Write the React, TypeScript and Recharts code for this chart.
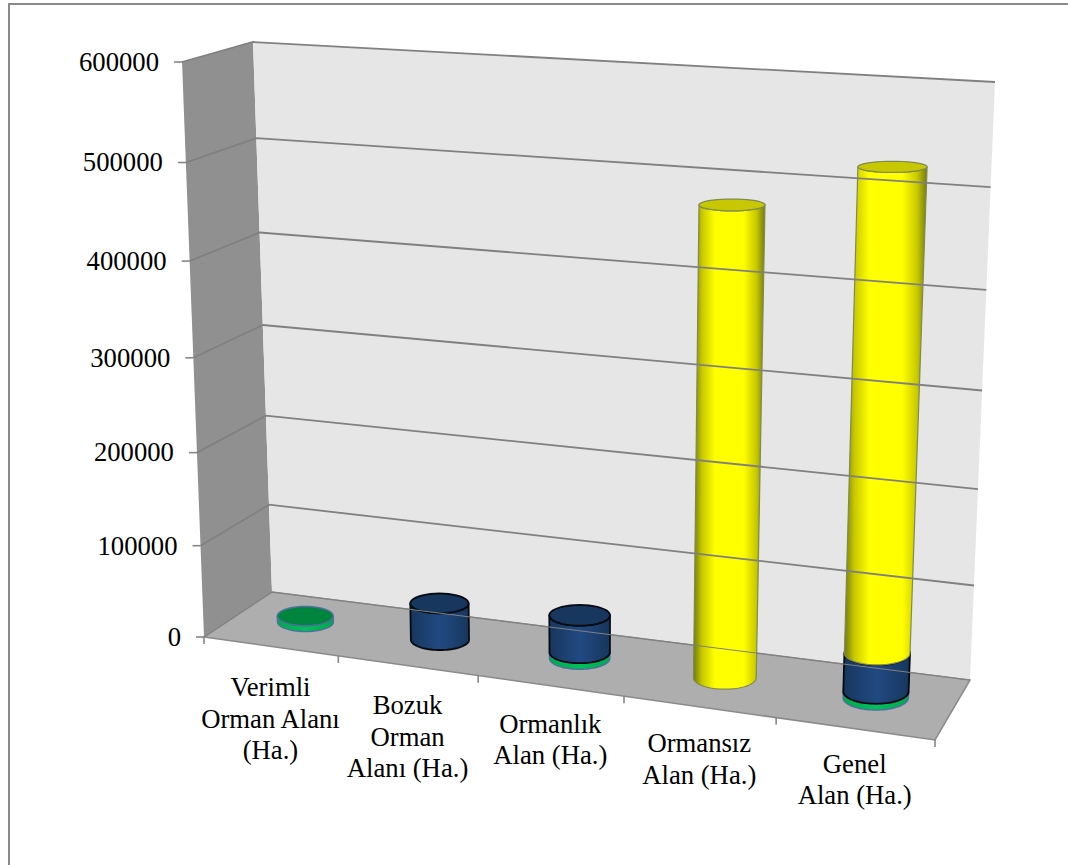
import { BarChart, Bar, XAxis, YAxis, ReferenceArea, ReferenceLine } from 'recharts'

const categories = [
  'Verimli Orman Alanı (Ha.)',
  'Bozuk Orman Alanı (Ha.)',
  'Ormanlık Alan (Ha.)',
  'Ormansız Alan (Ha.)',
  'Genel Alan (Ha.)',
]
const categoryLines = [
  ['Verimli', 'Orman Alanı', '(Ha.)'],
  ['Bozuk', 'Orman', 'Alanı (Ha.)'],
  ['Ormanlık', 'Alan (Ha.)'],
  ['Ormansız', 'Alan (Ha.)'],
  ['Genel', 'Alan (Ha.)'],
]
const verimli = [6500, 0, 6500, 0, 6500]
const bozuk = [0, 40000, 40000, 0, 40000]
const ormansiz = [0, 0, 0, 480000, 480000]
const yTicks = [0, 100000, 200000, 300000, 400000, 500000, 600000]

const chartData = categories.map((name, i) => ({
  name,
  verimli: verimli[i],
  bozuk: bozuk[i],
  ormansiz: ormansiz[i],
}))

// plot rectangle recharts lays out; everything is then pushed through the 3D view
const PLOT_LEFT = 100
const PLOT_TOP = 100
const PLOT_W = 900
const PLOT_H = 600
const FONT = '"Liberation Serif", serif'
const FONT_SIZE = 26.7

type Pt = [number, number]

const lerp = (a: Pt, b: Pt, t: number): Pt => [a[0] + (b[0] - a[0]) * t, a[1] + (b[1] - a[1]) * t]

// box corners on the page, depth 0 = front, 1 = back wall
function project(u: number, v: number, d: number): Pt {
  const p0 = lerp([204, 637], [272, 592], d) // bottom left
  const p1 = lerp([935, 740], [970, 680], d) // bottom right
  const p2 = lerp([959, 104], [995, 82], d) // top right
  const p3 = lerp([182, 62], [253, 42], d) // top left
  const dx1 = p1[0] - p2[0]
  const dx2 = p3[0] - p2[0]
  const sx = p0[0] - p1[0] + p2[0] - p3[0]
  const dy1 = p1[1] - p2[1]
  const dy2 = p3[1] - p2[1]
  const sy = p0[1] - p1[1] + p2[1] - p3[1]
  const den = dx1 * dy2 - dx2 * dy1
  const g = (sx * dy2 - dx2 * sy) / den
  const h = (dx1 * sy - sx * dy1) / den
  const a = p1[0] - p0[0] + g * p1[0]
  const b = p3[0] - p0[0] + h * p3[0]
  const c = p1[1] - p0[1] + g * p1[1]
  const e = p3[1] - p0[1] + h * p3[1]
  const w = g * u + h * v + 1
  return [(a * u + b * v + p0[0]) / w, (c * u + e * v + p0[1]) / w]
}

const toU = (x: number) => (x - PLOT_LEFT) / PLOT_W
const toV = (y: number) => (PLOT_TOP + PLOT_H - y) / PLOT_H
const pathOf = (pts: Pt[]) => 'M' + pts.map((p) => `${p[0].toFixed(1)},${p[1].toFixed(1)}`).join('L') + 'Z'

function WallsShape(props: any) {
  const u0 = toU(props.x)
  const u1 = toU(props.x + props.width)
  const v0 = toV(props.y + props.height)
  const v1 = toV(props.y)
  return (
    <g>
      <path
        d={pathOf([project(u0, v0, 0), project(u0, v0, 1), project(u0, v1, 1), project(u0, v1, 0)])}
        fill="#909090"
      />
      <path
        d={pathOf([project(u0, v0, 1), project(u1, v0, 1), project(u1, v1, 1), project(u0, v1, 1)])}
        fill="#e6e6e6"
      />
      <path
        d={pathOf([project(u0, v0, 0), project(u1, v0, 0), project(u1, v0, 1), project(u0, v0, 1)])}
        fill="#aeaeae"
        stroke="#8a8a8a"
        strokeWidth={1.5}
      />
    </g>
  )
}

function GridShape(props: any) {
  const v = toV(props.y1)
  const pts = [project(0, v, 0), project(0, v, 1), project(1, v, 1)]
  return (
    <polyline
      points={pts.map((p) => p.join(',')).join(' ')}
      fill="none"
      stroke="#808080"
      strokeWidth={v === 0 ? 1 : 1.8}
    />
  )
}

function YTick(props: any) {
  const v = toV(props.y)
  const [px, py] = project(0, v, 0)
  return (
    <g>
      <line x1={px - 8} y1={py} x2={px} y2={py} stroke="#868686" strokeWidth={1.6} />
      <text x={px - 23} y={py} dy="0.33em" textAnchor="end" fontFamily={FONT} fontSize={FONT_SIZE} fill="#000">
        {props.payload.value}
      </text>
    </g>
  )
}

function XTick(props: any) {
  const band = PLOT_W / categories.length
  const i = props.index
  const u = toU(props.x)
  const [cx, cy] = project(u, 0, 0)
  const edges = [toU(props.x - band / 2)]
  if (i === categories.length - 1) edges.push(toU(props.x + band / 2))
  return (
    <g>
      {edges.map((e) => {
        const [ex, ey] = project(e, 0, 0)
        return <line key={e} x1={ex} y1={ey} x2={ex} y2={ey + 7} stroke="#868686" strokeWidth={1.6} />
      })}
      <text textAnchor="middle" fontFamily={FONT} fontSize={FONT_SIZE} fill="#000">
        {categoryLines[i].map((line, k) => (
          <tspan key={line} x={cx} y={cy + 50 - i * 1.5 + k * 31.5}>
            {line}
          </tspan>
        ))}
      </text>
    </g>
  )
}

const DEPTH_C = 0.53
const DEPTH_R = 0.21

function cylinder(id: string, stops: [number, string][], cap: string, stroke: string, strokeW: number) {
  return function CylinderShape(props: any) {
    if (!props.height || props.height <= 0) return <g />
    const cu = toU(props.x + props.width / 2)
    const ru = props.width / 2 / PLOT_W
    const vb = toV(props.y + props.height)
    const vt = toV(props.y)
    // rim stays level on the page, depth only squashes it vertically
    const ring = (v: number, from: number, to: number) => {
      const c = project(cu, v, DEPTH_C)
      const r = project(cu + ru, v, DEPTH_C)
      const ry = (project(cu, v, DEPTH_C - DEPTH_R)[1] - project(cu, v, DEPTH_C + DEPTH_R)[1]) / 2
      const out: Pt[] = []
      for (let s = 0; s <= 40; s++) {
        const t = from + ((to - from) * s) / 40
        out.push([c[0] + (r[0] - c[0]) * Math.cos(t), c[1] - ry * Math.sin(t)])
      }
      return out
    }
    const side = [...ring(vb, Math.PI, 2 * Math.PI), ...ring(vt, 2 * Math.PI, Math.PI)]
    const top = ring(vt, 0, 2 * Math.PI)
    return (
      <g>
        <defs>
          <linearGradient id={id} x1="0" y1="0" x2="1" y2="0">
            {stops.map(([o, c]) => (
              <stop key={o} offset={o} stopColor={c} />
            ))}
          </linearGradient>
        </defs>
        <path d={pathOf(side)} fill={`url(#${id})`} stroke={stroke} strokeWidth={strokeW} strokeLinejoin="round" />
        <path d={pathOf(top)} fill={cap} stroke={stroke} strokeWidth={strokeW} />
      </g>
    )
  }
}

const GreenShape = cylinder('cylGreen', [[0, '#00a84c'], [0.5, '#00c05a'], [1, '#00a84c']], '#00853f', '#4f6fa0', 1.4)
const BlueShape = cylinder('cylBlue', [[0, '#17365d'], [0.5, '#214a82'], [1, '#17365d']], '#17375e', '#050a10', 1.8)
const YellowShape = cylinder(
  'cylYellow',
  [[0, '#707a10'], [0.12, '#c8c800'], [0.3, '#ffff00'], [0.7, '#ffff00'], [0.88, '#c8c800'], [1, '#707a10']],
  '#c8c800',
  '#7f8a55',
  1.2,
)

export default function App() {
  return (
    <div style={{ position: 'absolute', left: 0, top: 0, width: 1068, height: 865, overflow: 'hidden', background: '#fff' }}>
      <div
        style={{
          position: 'absolute',
          left: 8,
          top: 3,
          width: 1100,
          height: 900,
          borderLeft: '2px solid #8a8a8a',
          borderTop: '2px solid #8a8a8a',
        }}
      />
      <div style={{ position: 'absolute', left: 0, top: 0 }}>
        <BarChart
          width={1068}
          height={865}
          data={chartData}
          margin={{ top: PLOT_TOP, right: 68, bottom: 100, left: 0 }}
          barSize={76}
        >
          <XAxis dataKey="name" height={65} axisLine={false} tickLine={false} tick={<XTick />} interval={0} />
          <YAxis width={PLOT_LEFT} domain={[0, 600000]} ticks={yTicks} axisLine={false} tickLine={false} tick={<YTick />} />
          <ReferenceArea y1={0} y2={600000} shape={<WallsShape />} />
          {yTicks.map((t) => (
            <ReferenceLine key={t} y={t} shape={<GridShape />} />
          ))}
          <Bar dataKey="verimli" stackId="a" shape={<GreenShape />} isAnimationActive={false} />
          <Bar dataKey="bozuk" stackId="a" shape={<BlueShape />} isAnimationActive={false} />
          <Bar dataKey="ormansiz" stackId="a" shape={<YellowShape />} isAnimationActive={false} />
        </BarChart>
      </div>
    </div>
  )
}
